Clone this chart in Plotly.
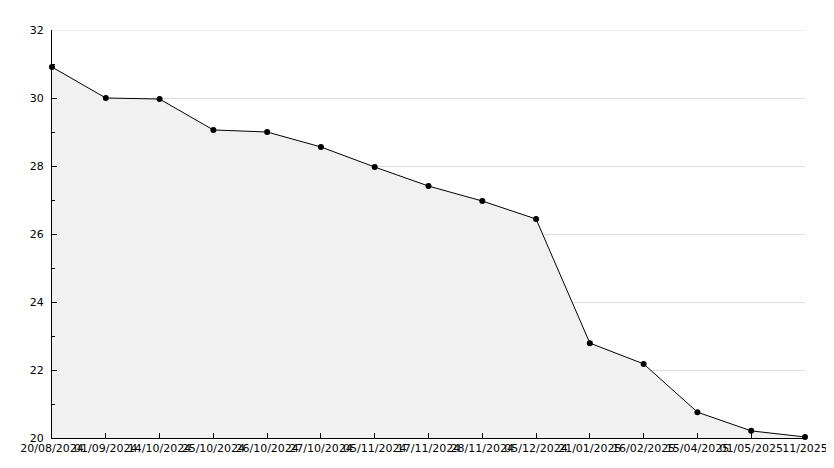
import plotly.graph_objects as go

dates = ["20/08/2024", "01/09/2024", "14/10/2024", "25/10/2024", "26/10/2024",
         "27/10/2024", "05/11/2024", "17/11/2024", "28/11/2024", "05/12/2024",
         "21/01/2025", "16/02/2025", "15/04/2025", "01/05/2025", "11/2025"]
values = [30.91, 30.0, 29.97, 29.06, 29.0, 28.56, 27.97, 27.41, 26.97, 26.44,
          22.79, 22.18, 20.76, 20.21, 20.03]
y_ticks = [20, 22, 24, 26, 28, 30, 32]

x_idx = list(range(len(dates)))

fig = go.Figure()
fig.add_trace(go.Scatter(
    x=x_idx, y=values, mode="lines+markers",
    line=dict(color="black", width=1),
    marker=dict(color="black", size=6, symbol="circle"),
    fill="tozeroy", fillcolor="#f1f1f1",
    cliponaxis=False,
))

fig.update_layout(
    width=834, height=468,
    margin=dict(l=44, r=37, t=22, b=38, autoexpand=False),
    paper_bgcolor="white", plot_bgcolor="white",
    showlegend=False,
    font=dict(family="DejaVu Sans", size=11, color="black"),
)
fig.update_xaxes(
    tickmode="array", tickvals=x_idx, ticktext=dates,
    range=[0, len(dates) - 1], automargin=False,
    showgrid=False, showline=True, linecolor="black", linewidth=1,
    ticks="inside", ticklen=5, tickcolor="black",
    zeroline=False, tickangle=0, ticklabelstandoff=0,
)
fig.update_yaxes(
    range=[20, 32], tickvals=y_ticks, automargin=False,
    showgrid=True, gridcolor="#dddddd", gridwidth=1,
    showline=True, linecolor="black", linewidth=1, mirror=False,
    ticks="inside", ticklen=5, tickcolor="black",
    minor=dict(ticks="inside", ticklen=3, tickcolor="black", dtick=1, tick0=21, showgrid=False),
    zeroline=False, ticklabelstandoff=5,
)
fig.add_shape(type="line", xref="paper", yref="y", x0=0, x1=1, y0=32, y1=32,
              line=dict(color="#dddddd", width=1), layer="below")
fig.write_html("out.html")
